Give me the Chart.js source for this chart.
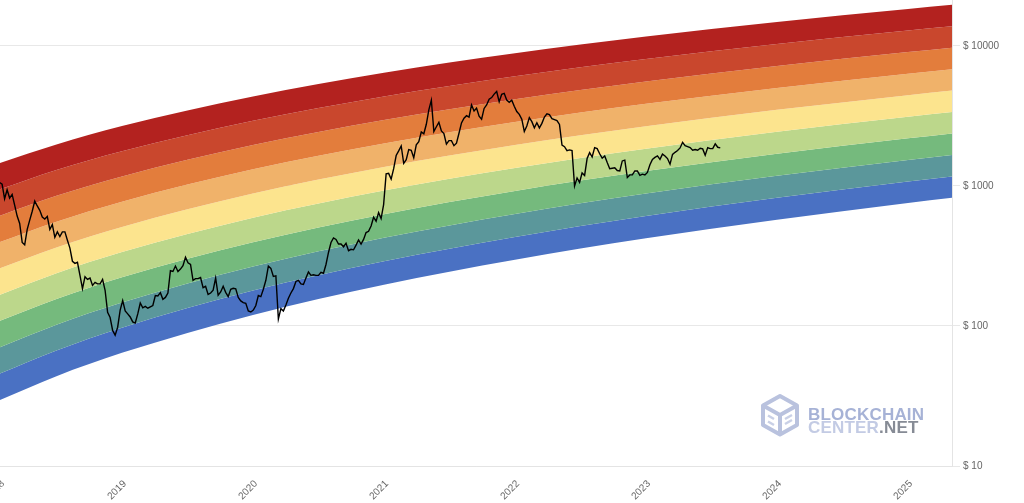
<!DOCTYPE html>
<html>
<head>
<meta charset="utf-8">
<script src="https://cdn.jsdelivr.net/npm/chart.js"></script>
<style>
html,body{margin:0;padding:0;background:#fff;overflow:hidden}
#wrap{position:relative;width:1024px;height:503px;background:#fff}
#c{position:absolute;left:0;top:0}
.wm{position:absolute;font-family:"Liberation Sans",Arial,sans-serif;font-weight:bold;font-size:17px;line-height:1;white-space:nowrap;letter-spacing:0.2px}
</style>
</head>
<body>
<div id="wrap">
<canvas id="c" width="1024" height="503"></canvas>
<svg style="position:absolute;left:759px;top:392px" width="46" height="48" viewBox="0 0 46 48">
  <polygon points="21,4 38,13.5 38,33 21,42.5 4,33 4,13.5" fill="none" stroke="#b9c2de" stroke-width="4" stroke-linejoin="round"/>
  <polyline points="4,13.5 21,23 38,13.5" fill="none" stroke="#b9c2de" stroke-width="4" stroke-linejoin="round"/>
  <line x1="21" y1="23" x2="21" y2="42.5" stroke="#b9c2de" stroke-width="4"/>
  <path d="M26,27 L33,23 M26,32 L33,28" stroke="#c9d0e6" stroke-width="2.5" fill="none"/>
  <path d="M15,27 L9,23.5 M15,33 L9,29.5" stroke="#c9d0e6" stroke-width="2.5" fill="none"/>
</svg>
<div class="wm" style="left:808px;top:405.5px;color:#a6b2d6">BLOCKCHAIN</div>
<div class="wm" style="left:808px;top:419px"><span style="color:#c3cbe4">CENTER</span><span style="color:#868b95">.NET</span></div>
</div>
<script>
// ---- axes ----
const xMin = 2018.069;
const xMax = 2025.336;
const yMin = 10;
const yMax = 21300;
const xTickLabels = ['2018','2019','2020','2021','2022','2023','2024','2025'];
const xTickYears = [2019,2020,2021,2022,2023,2024,2025];
const priceTicks = [10,100,1000,10000];

// ---- rainbow band boundaries (top to bottom) ----
const bandYears = [2018.069, 2018.5, 2019, 2020, 2021, 2022, 2023, 2024, 2025, 2025.336];
const boundary1  = [1460, 1980, 2680, 4360, 6430, 8870, 11670, 14840, 18380, 19660];
const boundary2  = [947, 1300, 1770, 2920, 4360, 6080, 8070, 10340, 12890, 13820];
const boundary3  = [614, 850, 1170, 1960, 2960, 4170, 5580, 7200, 9040, 9710];
const boundary4  = [398, 556, 772, 1315, 2010, 2860, 3860, 5020, 6340, 6830];
const boundary5  = [258, 364, 510, 883, 1366, 1960, 2670, 3500, 4450, 4800];
const boundary6  = [167, 238, 337, 592, 927, 1345, 1847, 2440, 3120, 3370];
const boundary7  = [109, 156, 223, 397, 629, 922, 1277, 1700, 2190, 2370];
const boundary8  = [70.4, 102, 147, 266, 427, 632, 883, 1183, 1535, 1665];
const boundary9  = [45.7, 66.9, 97.3, 179, 290, 433, 611, 825, 1076, 1170];
const boundary10 = [29.6, 43.8, 64.3, 120, 197, 297, 423, 574, 755, 823];
const bandColors = ['#b3221f','#c9472d','#e37d3c','#f0b26a','#fce48e','#bcd78b','#75ba7d','#5b979b','#4a71c3'];

// ---- ETH weekly price (USD), starting 2018-01-25, one value per week ----
const priceStart = '2018-01-25';
const priceStepDays = 7;
const eth2018 = [1060,1030,810,940,820,870,730,610,540,395,380,490,570,660,780,720,670,600,580,605,490,530,430,470,435,470,470,410,360,290,280,285,230,185,225,215,220,195,205,200,200,215,180,125,115,93,86,98,130];
const eth2019 = [152,128,122,116,107,105,122,146,135,138,134,137,140,165,164,173,155,160,172,248,245,268,245,255,270,310,283,275,212,218,218,222,188,192,168,172,180,220,166,175,192,174,162,183,186,184,160,151,147,145,128,126];
const eth2020 = [130,140,165,162,183,212,268,258,226,228,112,133,128,141,158,172,185,208,212,200,198,220,243,230,232,230,230,242,238,275,335,395,425,415,385,385,368,390,345,353,350,378,412,385,415,465,475,518,598,560,645,585,737];
const eth2021 = [1220,1230,1120,1330,1650,1780,1930,1450,1540,1820,1800,1590,1970,2070,2430,2360,2760,3500,4100,2450,2650,2850,2470,2370,1990,2110,2110,1940,2020,2380,2820,3050,3180,3100,3790,3430,3600,3150,3000,3580,3790,4170,4280,4530,4730,4000,4520,4590,4110,3960,4100,3710];
const eth2022 = [3400,3250,3000,2450,2680,3080,2880,2600,2830,2600,2800,3110,3280,3230,3030,2980,2930,2750,1960,1910,1790,1810,1790,1000,1140,1060,1240,1190,1570,1730,1610,1880,1850,1700,1580,1640,1470,1330,1340,1350,1290,1280,1510,1530,1150,1200,1200,1280,1280,1190,1215,1200];
const eth2023 = [1250,1420,1550,1600,1640,1550,1690,1640,1570,1430,1680,1740,1790,1870,2050,1940,1910,1880,1800,1820,1800,1860,1840,1660,1880,1850,1850,2000,1890,1870];

// ---- build ----
function toYear(ms){
  const d = new Date(ms);
  const y = d.getUTCFullYear();
  const s = Date.UTC(y,0,1), e = Date.UTC(y+1,0,1);
  return y + (ms - s) / (e - s);
}
const ethPrice = [].concat(eth2018, eth2019, eth2020, eth2021, eth2022, eth2023);
const startMs = Date.parse(priceStart + 'T00:00:00Z');
const pricePoints = ethPrice.map((p,i)=>({x: toYear(startMs + i*priceStepDays*86400000), y: p}));

const boundaries = [boundary1,boundary2,boundary3,boundary4,boundary5,boundary6,boundary7,boundary8,boundary9,boundary10];
const datasets = [{
  label:'ETH',
  data: pricePoints,
  borderColor:'#000',
  borderWidth:1.4,
  pointRadius:0,
  fill:false,
  tension:0
}];
boundaries.forEach((b,k)=>{
  datasets.push({
    label:'b'+k,
    data: bandYears.map((x,i)=>({x:x, y:b[i]})),
    borderColor:'rgba(0,0,0,0)',
    borderWidth:0,
    backgroundColor: k===0 ? 'rgba(0,0,0,0)' : bandColors[k-1],
    fill: k===0 ? false : '-1',
    pointRadius:0,
    cubicInterpolationMode:'monotone'
  });
});

const fontFam = '"Liberation Sans", Arial, Helvetica, sans-serif';
new Chart(document.getElementById('c'), {
  type:'line',
  data:{datasets:datasets},
  options:{
    responsive:false,
    animation:false,
    events:[],
    layout:{padding:0},
    plugins:{legend:{display:false}, tooltip:{enabled:false}},
    scales:{
      x:{
        type:'linear', position:'bottom', min:xMin, max:xMax,
        grid:{display:false},
        border:{display:true, color:'#e4e4e4'},
        ticks:{autoSkip:false, maxRotation:45, minRotation:45, padding:4, labelOffset:3, color:'#666',
               font:{size:10, family:fontFam},
               callback:(v,i)=>xTickLabels[i]},
        afterBuildTicks:(s)=>{ s.ticks = [xMin].concat(xTickYears).map(v=>({value:v})); },
        afterFit:(s)=>{ s.height = 37; s.paddingLeft = 0; s.paddingRight = 0; }
      },
      y:{
        type:'logarithmic', position:'right', min:yMin, max:yMax,
        grid:{color:'#e8e8e8', tickLength:8, drawTicks:true},
        border:{display:true, color:'#e4e4e4'},
        ticks:{color:'#666', padding:3, font:{size:10, family:fontFam},
               callback:(v)=>'$ ' + v},
        afterBuildTicks:(s)=>{ s.ticks = priceTicks.map(v=>({value:v})); },
        afterFit:(s)=>{ s.width = 72; s.paddingTop = 0; s.paddingBottom = 0; }
      }
    }
  }
});
</script>
</body>
</html>
